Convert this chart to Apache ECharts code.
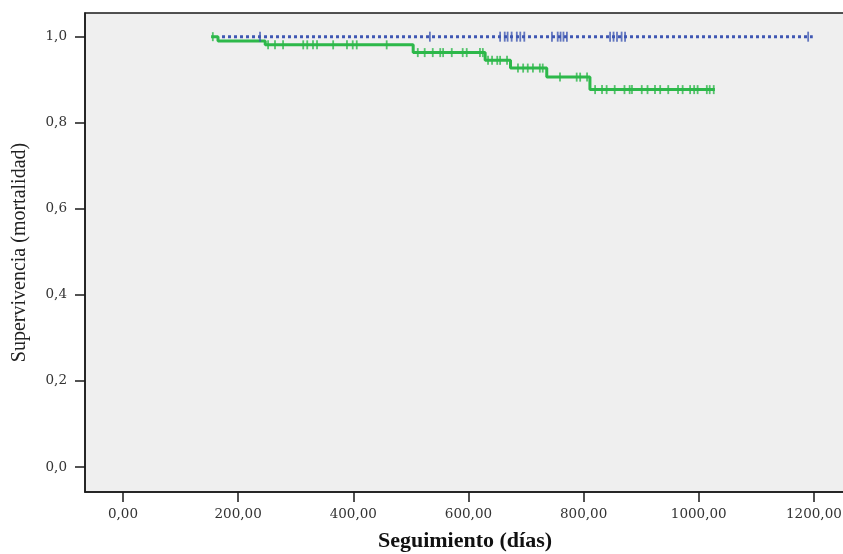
<!DOCTYPE html>
<html>
<head>
<meta charset="utf-8">
<script src="https://cdn.jsdelivr.net/npm/echarts@6/dist/echarts.min.js"></script>
<style>
html,body{margin:0;padding:0;background:#fff;}
#chart{width:843px;height:554px;}
</style>
</head>
<body>
<div id="chart"></div>
<script>
// Kaplan-Meier step curve, green group (day, survival)
const greenDays = [153, 165, 247, 504, 629, 673, 736, 811, 1028];
const greenSurv = [1.0, 0.990, 0.981, 0.963, 0.945, 0.927, 0.906, 0.877, 0.877];
// green censored observations (days)
const greenCensor = [156, 252, 264, 278, 313, 320, 330, 337, 365, 389, 399, 406, 458,
  512, 524, 538, 551, 556, 571, 590, 597, 620, 625,
  634, 641, 650, 655, 667,
  686, 695, 703, 712, 724, 729,
  759, 788, 794, 806,
  820, 832, 840, 854, 871, 880, 884, 901, 911, 924, 933, 947, 964, 972, 985, 992, 998, 1014, 1019, 1026];
// blue group: no events
const blueDays = [172, 1198];
const blueSurv = [1.0, 1.0];
const blueCensor = [238, 533, 655, 663, 668, 675, 684, 690, 697, 745, 755, 760, 765, 771, 846, 852, 858, 866, 872, 1190];
// axis tick values
const xTicks = [0, 200, 400, 600, 800, 1000, 1200];
const yTicks = [0, 0.2, 0.4, 0.6, 0.8, 1.0];

function stepValue(days, surv, t) {
  let v = surv[0];
  for (let i = 0; i < days.length; i++) { if (days[i] <= t) v = surv[i]; }
  return v;
}

const greenColor = '#2db84a';
const blueColor = '#3f57b3';
const chart = echarts.init(document.getElementById('chart'));
chart.setOption({
  animation: false,
  backgroundColor: '#ffffff',
  grid: {left: 85, top: 13, right: -2, bottom: 62, outerBoundsMode: 'none', containLabel: false,
    show: true, backgroundColor: '#efefef', borderColor: '#1a1a1a', borderWidth: 1.5},
  xAxis: {
    type: 'value', min: -66, max: 1254,
    name: 'Seguimiento (días)', nameLocation: 'middle', nameGap: 38,
    nameTextStyle: {fontFamily: 'Liberation Serif', fontWeight: 'bold', fontSize: 22, color: '#111'},
    axisLine: {show: true, onZero: false, lineStyle: {color: '#1a1a1a', width: 1.5}},
    axisTick: {show: true, customValues: xTicks, length: 10, lineStyle: {color: '#1a1a1a', width: 1.5}},
    axisLabel: {customValues: xTicks, margin: 15, fontFamily: 'DejaVu Serif', fontSize: 13.5, color: '#333',
      formatter: v => v.toFixed(2).replace('.', ',')},
    splitLine: {show: false}
  },
  yAxis: {
    type: 'value', min: -0.058, max: 1.055,
    name: 'Supervivencia (mortalidad)', nameLocation: 'middle', nameGap: 55,
    nameTextStyle: {fontFamily: 'Liberation Serif', fontSize: 20, color: '#222'},
    axisLine: {show: true, onZero: false, lineStyle: {color: '#1a1a1a', width: 1.5}},
    axisTick: {show: true, customValues: yTicks, length: 10, lineStyle: {color: '#1a1a1a', width: 1.5}},
    axisLabel: {customValues: yTicks, margin: 18, fontFamily: 'DejaVu Serif', fontSize: 13.5, color: '#333',
      formatter: v => v.toFixed(1).replace('.', ',')},
    splitLine: {show: false}
  },
  series: [
    {type: 'line', step: 'end', symbol: 'none', data: greenDays.map((d, i) => [d, greenSurv[i]]),
      lineStyle: {color: greenColor, width: 3}, z: 3},
    {type: 'scatter', symbol: 'rect', symbolSize: [1.8, 9],
      data: greenCensor.map(d => [d, stepValue(greenDays, greenSurv, d)]),
      itemStyle: {color: greenColor}, z: 4},
    {type: 'line', symbol: 'none', data: blueDays.map((d, i) => [d, blueSurv[i]]),
      lineStyle: {color: blueColor, width: 3, type: [3, 3]}, z: 5},
    {type: 'scatter', symbol: 'rect', symbolSize: [1.8, 10],
      data: blueCensor.map(d => [d, stepValue(blueDays, blueSurv, d)]),
      itemStyle: {color: blueColor}, z: 6}
  ]
});
</script>
</body>
</html>
